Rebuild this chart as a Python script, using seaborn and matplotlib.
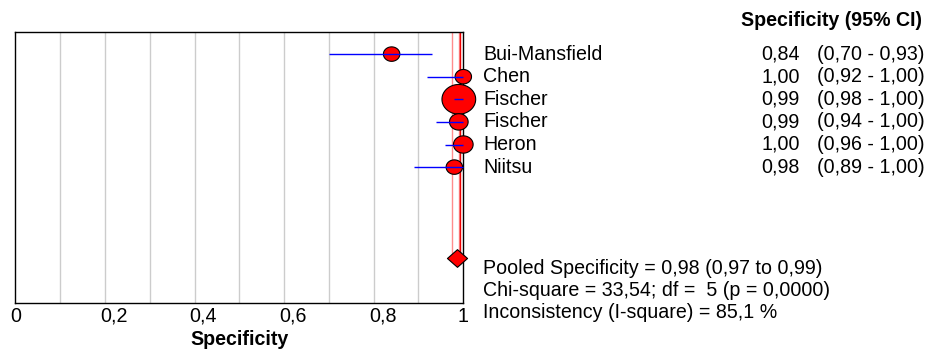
import numpy as np
import pandas as pd
import matplotlib
matplotlib.use("Agg")
import matplotlib.pyplot as plt
import matplotlib.transforms as mtrans
from matplotlib.path import Path
import seaborn as sns

# ---- data ----
studies = ["Bui-Mansfield", "Chen", "Fischer", "Fischer", "Heron", "Niitsu"]
spec = [0.84, 1.00, 0.99, 0.99, 1.00, 0.98]
ci_low = [0.70, 0.92, 0.98, 0.94, 0.96, 0.89]
ci_high = [0.93, 1.00, 1.00, 1.00, 1.00, 1.00]
spec_txt = ["0,84", "1,00", "0,99", "0,99", "1,00", "0,98"]
ci_txt = ["(0,70 - 0,93)", "(0,92 - 1,00)", "(0,98 - 1,00)",
          "(0,94 - 1,00)", "(0,96 - 1,00)", "(0,89 - 1,00)"]
weights = [10.0, 10.0, 42.7, 12.9, 14.4, 10.0]
pooled = 0.985
pooled_lines_light = [0.975, 0.99]
pooled_line = 0.993
summary = ["Pooled Specificity = 0,98 (0,97 to 0,99)",
           "Chi-square = 33,54; df =  5 (p = 0,0000)",
           "Inconsistency (I-square) = 85,1 %"]
xticks = [0, 0.2, 0.4, 0.6, 0.8, 1.0]
xticklabels = ["0", "0,2", "0,4", "0,6", "0,8", "1"]
gridpos = [0.1, 0.2, 0.3, 0.4, 0.5, 0.6, 0.7, 0.8, 0.9]

sns.set_style("white")
plt.rcParams["font.family"] = ["Liberation Sans", "DejaVu Sans"]
plt.rcParams["text.color"] = "black"
plt.rcParams["xtick.color"] = "black"
plt.rcParams["axes.labelcolor"] = "black"
FS = 14.1

fig = plt.figure(figsize=(9.33, 3.49), dpi=100)
ax = fig.add_axes([15.3 / 933, 1 - 302.7 / 349, 448 / 933, (302.7 - 31.5) / 349])

df = pd.DataFrame({"study": studies, "spec": spec, "lo": ci_low, "hi": ci_high,
                   "w": weights, "row": np.arange(len(studies))})

# grid
for g in gridpos:
    ax.axvline(g, color="#cccccc", lw=1.0, zorder=1)

# pooled vertical lines
for xv in pooled_lines_light:
    ax.plot([xv, xv], [-1, 9], color="#ff8c8c", lw=1.0, zorder=2)
ax.plot([pooled_line, pooled_line], [-1, 9], color="#ee0000", lw=1.0, zorder=2)

# ellipse marker
t = np.linspace(0, 2 * np.pi, 60)
ell = Path(np.column_stack([np.cos(t), 0.88 * np.sin(t)]), closed=True)

sns.scatterplot(data=df, x="spec", y="row", size="w", sizes=(140, 590),
                marker=ell, color="red", edgecolor="black", linewidth=0.8,
                legend=False, ax=ax, zorder=5)
ax.hlines(df["row"], df["lo"], df["hi"], color="blue", lw=1.0, zorder=6)

# pooled diamond
dia = Path([(-1, 0), (0, 0.88), (1, 0), (0, -0.88), (-1, 0)], closed=True)
sns.scatterplot(x=[pooled], y=[9], marker=dia, s=210, color="red",
                edgecolor="black", linewidth=0.8, ax=ax, zorder=7, legend=False)
for c in ax.collections:
    c.set_clip_on(False)

ax.set_xlim(0, 1)
ax.set_ylim(11, -1)
ax.set_yticks([])
ax.set_xticks(xticks)
ax.set_xticklabels(xticklabels, fontsize=FS)
ax.tick_params(axis="x", which="major", length=0, pad=3, colors="black")
off = mtrans.ScaledTranslation(9 / 100, 0, fig.dpi_scale_trans)
for lab in ax.get_xticklabels()[1:-1]:
    lab.set_transform(lab.get_transform() + off)
ax.set_xlabel("Specificity", fontsize=FS, fontweight="bold", labelpad=3,
              color="black")
ax.set_ylabel("")
for s in ax.spines.values():
    s.set_color("black")
    s.set_linewidth(1.0)
    s.set_visible(True)
    s.set_zorder(4)

# text columns
tr = mtrans.blended_transform_factory(fig.transFigure, ax.transData)
for i in range(len(studies)):
    ax.text(483 / 933, i, studies[i], transform=tr, ha="left", va="center",
            fontsize=FS, clip_on=False)
    ax.text(800 / 933, i, spec_txt[i], transform=tr, ha="right", va="center",
            fontsize=FS, clip_on=False)
    ax.text(817 / 933, i, ci_txt[i], transform=tr, ha="left", va="center",
            fontsize=FS, clip_on=False)
fig.text(922 / 933, 1 - 20 / 349, "Specificity (95% CI)", ha="right",
         va="center", fontsize=FS, fontweight="bold")
for k, line in enumerate(summary):
    fig.text(483 / 933, 1 - (269 + 22 * k) / 349, line, ha="left",
             va="center", fontsize=FS)

fig.savefig("out.png", dpi=100)
